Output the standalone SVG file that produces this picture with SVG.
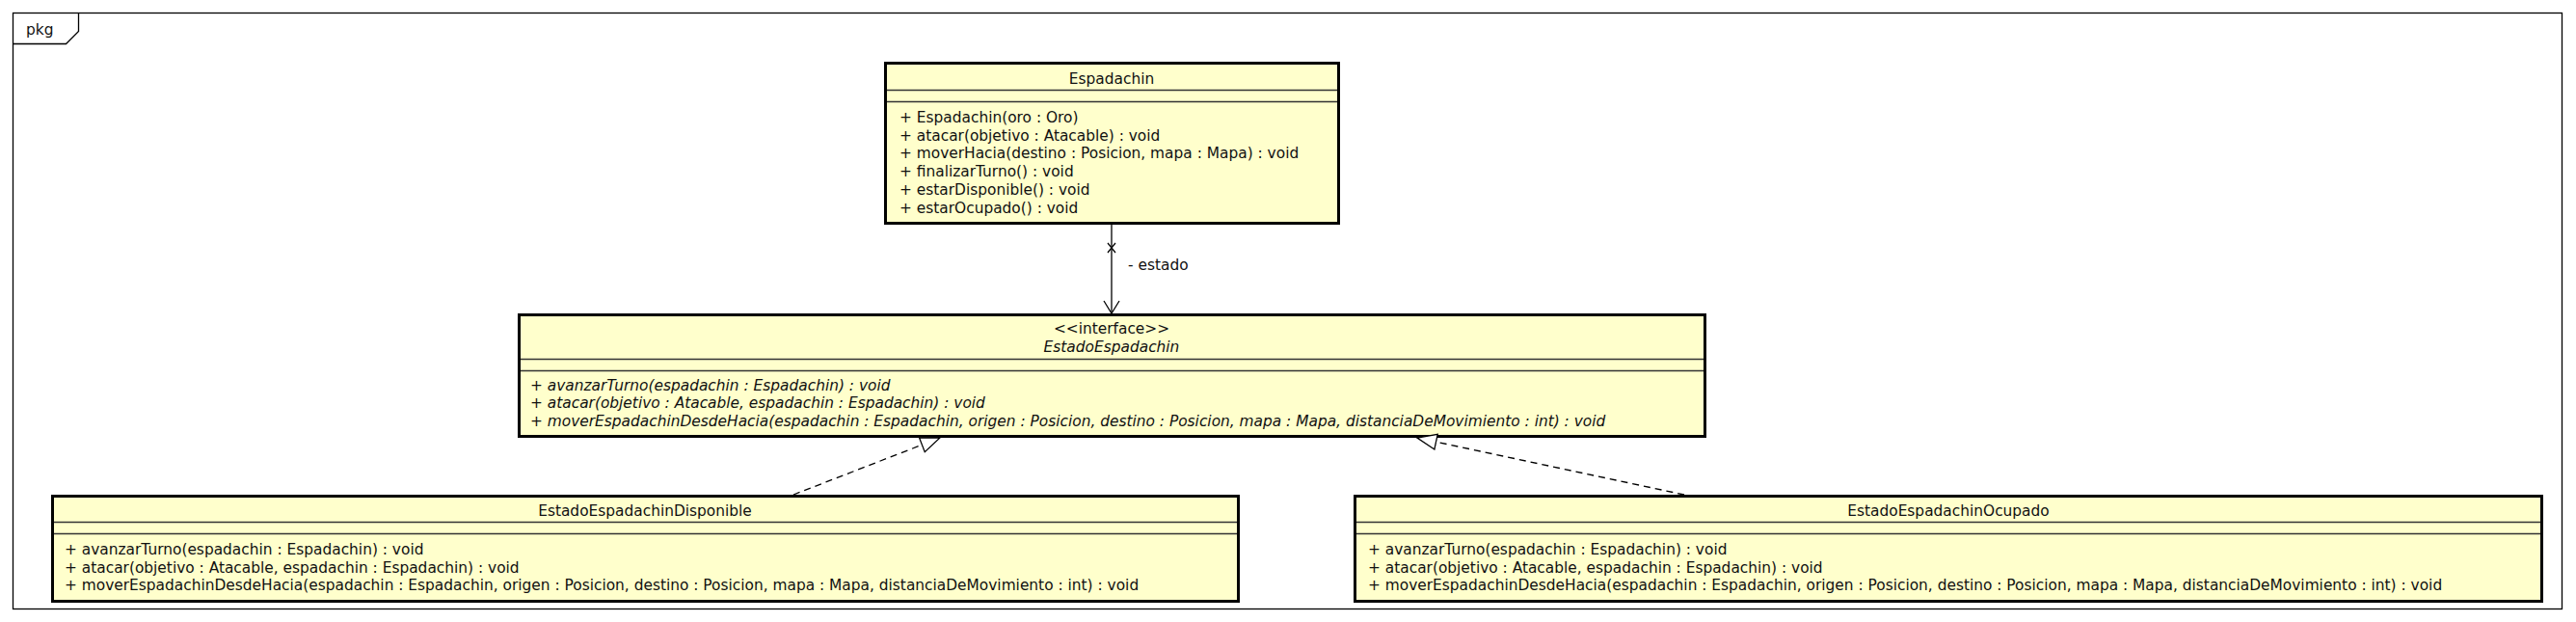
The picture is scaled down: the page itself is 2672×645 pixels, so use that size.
<svg xmlns="http://www.w3.org/2000/svg" width="2672" height="645" viewBox="0 0 2672 645">
<defs>
<style>
text{font-family:"DejaVu Sans","Liberation Sans",sans-serif;font-size:15.4px;fill:#111}
.c{text-anchor:middle}
.it{font-style:italic}
.box{fill:#FFFFCC;stroke:#000;stroke-width:3}
.sep{stroke:#333;stroke-width:1.3;fill:none}
.ln{stroke:#000;stroke-width:1.3;fill:none}
.dash{stroke:#000;stroke-width:1.3;fill:none;stroke-dasharray:7,5}
</style>
<marker id="tri" viewBox="0 0 22 18" refX="21" refY="9" markerWidth="22" markerHeight="18" markerUnits="userSpaceOnUse" orient="auto">
<path d="M1,1 L21,9 L1,17 Z" fill="#fff" stroke="#000" stroke-width="1.3"/>
</marker>
</defs>
<rect width="2672" height="645" fill="#fff"/>
<g id="frame">
<rect x="13.5" y="13.5" width="2644" height="618" fill="none" stroke="#000" stroke-width="1.3"/>
<path d="M13.5,45.5 L68.5,45.5 L81.5,32.5 L81.5,13.5" class="ln"/>
<text x="27" y="36">pkg</text>
</g>
<g id="Espadachin">
<rect class="box" x="918.5" y="65.5" width="470" height="166"/>
<line class="sep" x1="920" y1="93.5" x2="1387" y2="93.5"/>
<line class="sep" x1="920" y1="105.5" x2="1387" y2="105.5"/>
<text class="c" x="1153" y="87">Espadachin</text>
<text x="933" y="127">+ Espadachin(oro : Oro)</text>
<text x="933" y="145.7">+ atacar(objetivo : Atacable) : void</text>
<text x="933" y="164.4">+ moverHacia(destino : Posicion, mapa : Mapa) : void</text>
<text x="933" y="183.1">+ finalizarTurno() : void</text>
<text x="933" y="201.8">+ estarDisponible() : void</text>
<text x="933" y="220.5">+ estarOcupado() : void</text>
</g>
<g id="EstadoEspadachin">
<rect class="box" x="538.5" y="326.5" width="1230" height="126"/>
<line class="sep" x1="540" y1="372.5" x2="1767" y2="372.5"/>
<line class="sep" x1="540" y1="384.5" x2="1767" y2="384.5"/>
<text class="c" x="1153" y="346">&lt;&lt;interface&gt;&gt;</text>
<text class="c it" x="1153" y="364.5">EstadoEspadachin</text>
<text class="it" x="550" y="404.5">+ avanzarTurno(espadachin : Espadachin) : void</text>
<text class="it" x="550" y="423">+ atacar(objetivo : Atacable, espadachin : Espadachin) : void</text>
<text class="it" x="550" y="441.5">+ moverEspadachinDesdeHacia(espadachin : Espadachin, origen : Posicion, destino : Posicion, mapa : Mapa, distanciaDeMovimiento : int) : void</text>
</g>
<g id="EstadoEspadachinDisponible">
<rect class="box" x="54.5" y="514.5" width="1230" height="109"/>
<line class="sep" x1="56" y1="541.5" x2="1283" y2="541.5"/>
<line class="sep" x1="56" y1="553.5" x2="1283" y2="553.5"/>
<text class="c" x="669" y="535">EstadoEspadachinDisponible</text>
<text x="67" y="575">+ avanzarTurno(espadachin : Espadachin) : void</text>
<text x="67" y="593.5">+ atacar(objetivo : Atacable, espadachin : Espadachin) : void</text>
<text x="67" y="612">+ moverEspadachinDesdeHacia(espadachin : Espadachin, origen : Posicion, destino : Posicion, mapa : Mapa, distanciaDeMovimiento : int) : void</text>
</g>
<g id="EstadoEspadachinOcupado">
<rect class="box" x="1405.5" y="514.5" width="1231" height="109"/>
<line class="sep" x1="1407" y1="541.5" x2="2635" y2="541.5"/>
<line class="sep" x1="1407" y1="553.5" x2="2635" y2="553.5"/>
<text class="c" x="2021" y="535">EstadoEspadachinOcupado</text>
<text x="1419" y="575">+ avanzarTurno(espadachin : Espadachin) : void</text>
<text x="1419" y="593.5">+ atacar(objetivo : Atacable, espadachin : Espadachin) : void</text>
<text x="1419" y="612">+ moverEspadachinDesdeHacia(espadachin : Espadachin, origen : Posicion, destino : Posicion, mapa : Mapa, distanciaDeMovimiento : int) : void</text>
</g>
<g id="connectors">
<g id="estado">
<line class="ln" x1="1153" y1="233" x2="1153" y2="325"/>
<path class="ln" d="M1145,312 L1153,325 L1161,312"/>
<path class="ln" d="M1149,252 L1157,262 M1157,252 L1149,262"/>
<text x="1170" y="280">- estado</text>
</g>
<line class="dash" x1="823" y1="513" x2="975" y2="454" marker-end="url(#tri)"/>
<line class="dash" x1="1747" y1="513" x2="1470" y2="454" marker-end="url(#tri)"/>
</g>
</svg>
